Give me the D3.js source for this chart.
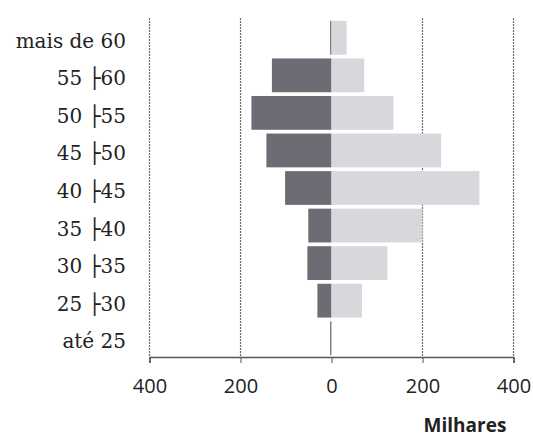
<!DOCTYPE html>
<html><head><meta charset="utf-8">
<script src="https://cdn.jsdelivr.net/npm/d3@7"></script>
<style>body{margin:0;background:#fff}</style>
</head><body>
<svg id="c" width="533" height="439"></svg>
<script>
const categories = ["mais de 60","55 ├60","50 ├55","45 ├50","40 ├45","35 ├40","30 ├35","25 ├30","até 25"];
const leftValues = [3,131,176,143,102,51,53,31,3];
const rightValues = [33,72,136,241,325,200,123,67,1];
const tickValues = [-400,-200,0,200,400];
const tickLabels = ["400","200","0","200","400"];
const unitLabel = "Milhares";

const svg = d3.select("#c");
const x = d3.scaleLinear().domain([-400,400]).range([149.5,513.5]);
const y = d3.scaleBand().domain(categories).range([19,357]).paddingInner(0.1).paddingOuter(0.05);

// gridlines
svg.append("g").selectAll("line").data(tickValues.filter(d=>d!==0)).join("line")
  .attr("x1",d=>x(d)).attr("x2",d=>x(d)).attr("y1",18).attr("y2",357)
  .attr("stroke","#6a6a6a").attr("stroke-width",1.2).attr("stroke-dasharray","2,1");

// bars
svg.append("g").selectAll("rect").data(categories).join("rect")
  .attr("x",(d,i)=>x(-leftValues[i])).attr("width",(d,i)=>x(0)-x(-leftValues[i]))
  .attr("y",d=>y(d)).attr("height",y.bandwidth()).attr("fill","#6c6c74");
svg.append("g").selectAll("rect").data(categories).join("rect")
  .attr("x",x(0)).attr("width",(d,i)=>x(rightValues[i])-x(0))
  .attr("y",d=>y(d)).attr("height",y.bandwidth()).attr("fill","#d8d8dc");

// bottom axis
const ax = d3.axisBottom(x).tickValues(tickValues).tickSize(6).tickFormat((d,i)=>tickLabels[i]);
const g = svg.append("g").attr("transform","translate(0,357)").call(ax);
g.select(".domain").attr("stroke","#555").attr("stroke-width",1.5);
g.selectAll(".tick line").attr("stroke","#555");
g.selectAll("text").attr("font-family","'Open Sans', sans-serif").attr("font-size",20).attr("fill","#222").attr("y",36).attr("dy",0);

// left labels
svg.append("g").selectAll("text").data(categories).join("text")
  .attr("x",126).attr("y",d=>y(d)+y.bandwidth()/2+3).attr("dy","0.35em")
  .attr("text-anchor","end").attr("font-family","'DejaVu Serif', serif").attr("font-size",20)
  .attr("fill","#222").text(d=>d);

svg.append("text").attr("x",465).attr("y",432).attr("text-anchor","middle")
  .attr("font-family","'Open Sans', sans-serif").attr("font-weight","bold").attr("font-size",19)
  .attr("fill","#222").text(unitLabel);
</script>
</body></html>
